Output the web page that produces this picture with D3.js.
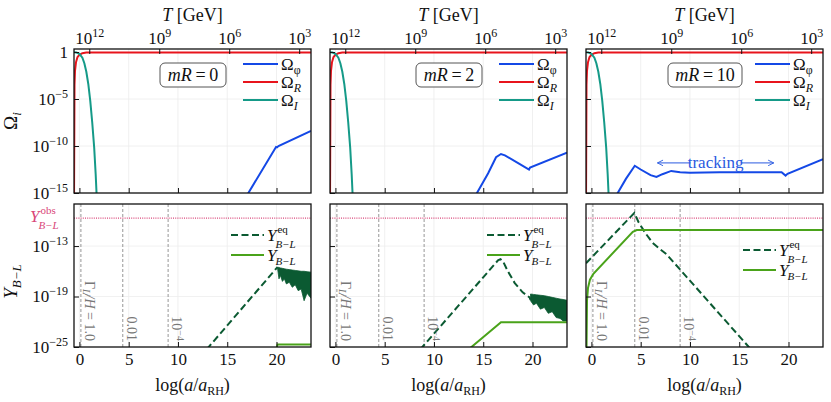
<!DOCTYPE html>
<html>
<head>
<meta charset="utf-8">
<script src="https://cdn.jsdelivr.net/npm/d3@7"></script>
<style>
  body { margin: 0; background: #fff; }
  text { font-family: "Liberation Serif", "DejaVu Serif", serif; fill: #111; }
</style>
</head>
<body>
<svg id="chart" width="831" height="402"></svg>
<script>
// ---- data (x = log(a/a_RH), values are log10) ----
const mRValues = ['0', '2', '10'];
const xTicks = [0, 5, 10, 15, 20];
const tempTicks = [12, 9, 6, 3];          // log10 T [GeV]
const tempAnchor = [[12, 1.0], [3, 22.3]]; // log10 T -> x position
const omegaTicks = [0, -5, -10, -15];
const yieldTicks = [-13, -19, -25];
const yObs = -9.67;
const washoutLines = [0.15, 4.4, 9.0];

const omegaR = [[-0.55, -16], [-0.5, -3.5], [-0.45, -2.0], [-0.35, -1.1], [-0.2, -0.55],
  [0, -0.3], [0.3, -0.12], [0.7, -0.06], [1.2, -0.04], [23.5, -0.04]];
const omegaI = [[-0.55, -0.02], [-0.3, -0.06], [0, -0.2], [0.3, -0.6], [0.5, -1.2],
  [0.7, -2.1], [0.9, -3.4], [1.1, -5.2], [1.3, -7.5], [1.5, -10.2], [1.65, -13], [1.78, -16]];
const omegaPhi = [
  [[16.8, -15.6], [19.95, -10.1], [20.05, -10.15], [20.2, -10.0], [23.5, -8.4]],
  [[14.2, -15.3], [15.5, -12.9], [16.3, -11.2], [16.8, -10.85], [17.2, -11.0],
    [18.5, -11.8], [19.65, -12.5], [19.75, -12.3], [23.5, -10.7]],
  [[2.5, -15.3], [3.5, -13.5], [4.4, -12.1], [5.0, -12.5], [6.0, -13.1], [6.6, -13.3],
    [7.2, -13.0], [8.1, -12.65], [9.0, -12.8], [10, -12.85], [13, -12.8], [19.3, -12.8],
    [19.7, -13.15], [19.9, -12.95], [23.5, -11.4]]
];

const yieldEq = [
  [[12.9, -25.3], [20.1, -15.5]],
  [[8.6, -25.3], [16.5, -14.7], [16.75, -14.55], [17.0, -14.8], [17.5, -16.0],
    [18.2, -17.4], [19.0, -18.5], [19.7, -19.1], [19.8, -19.4]],
  [[-0.55, -15.05], [4.35, -9.07], [4.8, -10.2], [5.5, -11.5], [6.2, -12.6],
    [7.0, -13.4], [7.6, -13.95], [16.2, -25.3]]
];
// oscillating tail: [x, upper, lower]
const yieldEqBand = [
  [[20.1, -15.5, -15.6], [20.25, -15.55, -16.9], [20.4, -15.6, -16.5], [20.6, -15.65, -17.2],
    [20.8, -15.7, -16.9], [21.0, -15.75, -17.5], [21.3, -15.8, -17.3], [21.6, -15.85, -17.9],
    [21.9, -15.9, -17.6], [22.2, -15.95, -18.3], [22.5, -16.0, -18.1], [22.8, -16.0, -19.5],
    [23.1, -16.05, -18.6], [23.5, -16.1, -19.2]],
  [[19.8, -18.7, -19.5], [20.1, -18.75, -20.0], [20.4, -18.8, -19.8], [20.8, -18.85, -20.5],
    [21.2, -18.9, -20.3], [21.6, -19.0, -21.0], [22.0, -19.1, -20.8], [22.4, -19.2, -21.5],
    [22.8, -19.3, -21.6], [23.1, -19.35, -21.9], [23.5, -19.45, -21.9]],
  []
];
const yieldBL = [
  [[19.95, -25.5], [20.1, -24.7], [23.5, -24.7]],
  [[13.5, -25.3], [16.8, -22.05], [23.5, -22.05]],
  [[-0.5, -25.3], [-0.45, -19.5], [-0.35, -18.0], [-0.15, -17.0], [0.2, -16.3],
    [4.2, -11.3], [4.6, -11.1], [23.5, -11.1]]
];
const tracking = { from: 6.7, to: 18.5, level: -11.8 };

// ---- layout ----
const colors = { phi: '#1448e6', R: '#e8141c', I: '#159a88', eq: '#0b5a32', bl: '#4aa31a', obs: '#d9477a' };
const panelLeft = [74, 330, 586];
const panelW = 237;
const topBox = { top: 49, bottom: 193 };
const botBox = { top: 204, bottom: 347 };

const svg = d3.select('#chart');

function pow10(txt, base, exp, size) {
  txt.text(null);
  txt.append('tspan').text(base);
  if (exp !== null) {
    txt.append('tspan').attr('dy', -7).attr('font-size', size).text(exp);
  }
}

// symbol with stacked superscript and subscript
function supSub(x, y, base, sup, sub, opts) {
  const col = opts.color || '#111';
  const b = svg.append('text').attr('x', x).attr('y', y).attr('font-size', opts.size)
    .attr('font-style', 'italic').style('fill', col).text(base);
  const w = b.node().getComputedTextLength();
  if (sup) {
    svg.append('text').attr('x', x + w + 1).attr('y', y - 8).attr('font-size', opts.small)
      .style('fill', col).text(sup);
  }
  svg.append('text').attr('x', x + w - 1).attr('y', y + (sup ? 7 : 4)).attr('font-size', opts.small)
    .attr('font-style', 'italic').style('fill', col).text(sub);
}

function styleAxis(g) {
  g.select('.domain').remove();
  g.selectAll('.tick line').attr('stroke', '#111').attr('stroke-width', 1);
  g.selectAll('.tick text').attr('font-size', 17).attr('fill', '#111')
    .attr('font-family', '"Liberation Serif", serif');
}

svg.append('defs').append('marker')
  .attr('id', 'arr').attr('viewBox', '0 0 10 10').attr('refX', 9).attr('refY', 5)
  .attr('markerWidth', 7).attr('markerHeight', 7).attr('orient', 'auto-start-reverse')
  .append('path').attr('d', 'M1,1 L9,5 L1,9').attr('fill', 'none')
  .attr('stroke', '#2a5ae0').attr('stroke-width', 1.3);

mRValues.forEach((mR, i) => {
  const left = panelLeft[i];
  const x = d3.scaleLinear().domain([-0.55, 23.5]).range([left, left + panelW]);
  const yTop = d3.scaleLinear().domain([-15, 0.32]).range([topBox.bottom, topBox.top]);
  const yBot = d3.scaleLinear().domain([-25, -8]).range([botBox.bottom, botBox.top]);

  [[yTop, topBox, 'ct' + i, omegaTicks.slice(1)], [yBot, botBox, 'cb' + i, yieldTicks]].forEach(([y, box, id, gy]) => {
    svg.append('clipPath').attr('id', id).append('rect')
      .attr('x', left).attr('y', box.top).attr('width', panelW).attr('height', box.bottom - box.top);
    const grid = svg.append('g').attr('stroke', '#ececec').attr('stroke-width', 0.8);
    grid.selectAll('.gx').data(xTicks).join('line')
      .attr('x1', d => x(d)).attr('x2', d => x(d)).attr('y1', box.top).attr('y2', box.bottom);
    grid.selectAll('.gy').data(gy).join('line')
      .attr('x1', left).attr('x2', left + panelW).attr('y1', d => y(d)).attr('y2', d => y(d));
  });

  const line = (y) => d3.line().x(d => x(d[0])).y(d => y(d[1]));

  // ---- top panel ----
  const gt = svg.append('g').attr('clip-path', `url(#ct${i})`).attr('fill', 'none').attr('stroke-width', 2);
  gt.append('path').datum(omegaR).attr('d', line(yTop)).attr('stroke', colors.R);
  gt.append('path').datum(omegaI).attr('d', line(yTop)).attr('stroke', colors.I);
  gt.append('path').datum(omegaPhi[i]).attr('d', line(yTop)).attr('stroke', colors.phi);

  // ---- bottom panel ----
  const gb = svg.append('g').attr('clip-path', `url(#cb${i})`).attr('fill', 'none');
  gb.append('line').attr('x1', left).attr('x2', left + panelW)
    .attr('y1', yBot(yObs)).attr('y2', yBot(yObs))
    .attr('stroke', colors.obs).attr('stroke-width', 1.2).attr('stroke-dasharray', '1,1.2');
  gb.selectAll('.wl').data(washoutLines).join('line')
    .attr('x1', d => x(d)).attr('x2', d => x(d)).attr('y1', botBox.top).attr('y2', botBox.bottom)
    .attr('stroke', '#8a8a8a').attr('stroke-width', 0.9).attr('stroke-dasharray', '3,2');
  gb.append('path').datum(yieldEq[i]).attr('d', line(yBot))
    .attr('stroke', colors.eq).attr('stroke-width', 2).attr('stroke-dasharray', '7,3.5');
  if (yieldEqBand[i].length) {
    gb.append('path').datum(yieldEqBand[i])
      .attr('d', d3.area().x(d => x(d[0])).y0(d => yBot(d[2])).y1(d => yBot(d[1])))
      .attr('fill', colors.eq).attr('stroke', colors.eq).attr('stroke-width', 0.8);
  }
  gb.append('path').datum(yieldBL[i]).attr('d', line(yBot))
    .attr('stroke', colors.bl).attr('stroke-width', 2);

  // washout labels (rotated)
  const wlText = svg.append('g').attr('font-size', 14);
  washoutLines.forEach((w, k) => {
    const t = wlText.append('text')
      .attr('transform', `translate(${x(w) + 4},${botBox.bottom - 6}) rotate(90)`)
      .attr('text-anchor', 'end').style('fill', '#777');
    if (k === 0) {
      t.append('tspan').text('Γ');
      t.append('tspan').attr('font-style', 'italic').attr('font-size', 10).attr('dy', 2).text('L\u0338');
      t.append('tspan').attr('font-style', 'italic').attr('dy', -2).text('/H');
      t.append('tspan').text(' = 1.0');
    } else if (k === 1) {
      t.text('0.01');
    } else {
      t.append('tspan').text('10');
      t.append('tspan').attr('font-size', 10).attr('dy', -5).text('−4');
    }
  });

  // ---- frames ----
  [topBox, botBox].forEach(box => {
    svg.append('rect').attr('x', left).attr('y', box.top).attr('width', panelW)
      .attr('height', box.bottom - box.top).attr('fill', 'none')
      .attr('stroke', '#111').attr('stroke-width', 1.3);
  });

  // ---- axes ----
  const tScale = d3.scaleLinear().domain([tempAnchor[0][0], tempAnchor[1][0]])
    .range([x(tempAnchor[0][1]), x(tempAnchor[1][1])]);
  const ta = svg.append('g').attr('transform', `translate(0,${topBox.top})`)
    .call(d3.axisTop(tScale).tickValues(tempTicks).tickSize(-5).tickPadding(5));
  styleAxis(ta);
  ta.selectAll('.tick text').each(function (d) { pow10(d3.select(this), '10', String(d), 12); });

  const tb = svg.append('g').attr('transform', `translate(0,${topBox.bottom})`)
    .call(d3.axisBottom(x).tickValues(xTicks).tickSize(-5).tickFormat(''));
  styleAxis(tb);
  const bb = svg.append('g').attr('transform', `translate(0,${botBox.bottom})`)
    .call(d3.axisBottom(x).tickValues(xTicks).tickSize(-5).tickPadding(6));
  styleAxis(bb);

  const la = svg.append('g').attr('transform', `translate(${left},0)`)
    .call(d3.axisLeft(yTop).tickValues(omegaTicks).tickSize(-5).tickPadding(6));
  styleAxis(la);
  const lb = svg.append('g').attr('transform', `translate(${left},0)`)
    .call(d3.axisLeft(yBot).tickValues(yieldTicks).tickSize(-5).tickPadding(6));
  styleAxis(lb);
  if (i === 0) {
    la.selectAll('.tick text').each(function (d) {
      if (d === 0) pow10(d3.select(this), '1', null); else pow10(d3.select(this), '10', '−' + (-d), 12);
    });
    lb.selectAll('.tick text').each(function (d) { pow10(d3.select(this), '10', '−' + (-d), 12); });
  } else {
    la.selectAll('.tick text').remove();
    lb.selectAll('.tick text').remove();
  }

  // ---- titles ----
  const cx = left + panelW / 2;
  const tt = svg.append('text').attr('x', cx).attr('y', 21).attr('text-anchor', 'middle').attr('font-size', 18);
  tt.append('tspan').attr('font-style', 'italic').text('T');
  tt.append('tspan').text(' [GeV]');
  const xt = svg.append('text').attr('x', cx).attr('y', 391).attr('text-anchor', 'middle').attr('font-size', 18);
  xt.append('tspan').text('log(');
  xt.append('tspan').attr('font-style', 'italic').text('a');
  xt.append('tspan').text('/');
  xt.append('tspan').attr('font-style', 'italic').text('a');
  xt.append('tspan').attr('font-size', 12).attr('dy', 4).text('RH');
  xt.append('tspan').attr('dy', -4).text(')');

  // ---- mR box ----
  const bx = svg.append('g').attr('transform', `translate(${left + 119},${topBox.top + 26})`);
  const bw = mR.length > 1 ? 74 : 66;
  bx.append('rect').attr('x', -bw / 2).attr('y', -12).attr('width', bw).attr('height', 24)
    .attr('rx', 5).attr('fill', '#fff').attr('stroke', '#555').attr('stroke-width', 1);
  const mt = bx.append('text').attr('text-anchor', 'middle').attr('y', 6).attr('font-size', 18);
  mt.append('tspan').attr('font-style', 'italic').text('mR');
  mt.append('tspan').text('\u2009=\u2009' + mR);

  // ---- legends ----
  const topLeg = [['phi', 'φ', 'normal'], ['R', 'R', 'italic'], ['I', 'I', 'italic']];
  topLeg.forEach(([key, sub, st], k) => {
    const yy = topBox.top + 15 + k * 18;
    svg.append('line').attr('x1', left + 169).attr('x2', left + 204).attr('y1', yy).attr('y2', yy)
      .attr('stroke', colors[key]).attr('stroke-width', 2);
    const t = svg.append('text').attr('x', left + 207).attr('y', yy + 6).attr('font-size', 17);
    t.append('tspan').text('Ω');
    t.append('tspan').attr('font-style', st).attr('font-size', 12).attr('dy', 4).text(sub);
  });

  const legY = i === 2 ? botBox.top + 46 : botBox.top + 31;
  const legX = left + 157;
  [['eq', '7,3.5', 'eq'], ['bl', null, null]].forEach(([key, dash, sup], k) => {
    const yy = legY + k * 20;
    svg.append('line').attr('x1', legX).attr('x2', legX + 33).attr('y1', yy).attr('y2', yy)
      .attr('stroke', colors[key]).attr('stroke-width', 2).attr('stroke-dasharray', dash);
    supSub(legX + 36, yy + 6, 'Y', sup, 'B−L', { size: 17, small: 11 });
  });

  // ---- tracking annotation ----
  if (i === 2) {
    const ty = yTop(tracking.level);
    const tx = (x(tracking.from) + x(tracking.to)) / 2;
    svg.append('text').attr('x', tx).attr('y', ty + 5).attr('text-anchor', 'middle')
      .attr('font-size', 17).style('fill', '#2a5ae0').text('tracking');
    [[x(tracking.from), tx - 25], [x(tracking.to), tx + 25]].forEach(([a, b]) => {
      svg.append('line').attr('x1', b).attr('x2', a).attr('y1', ty).attr('y2', ty)
        .attr('stroke', '#2a5ae0').attr('stroke-width', 1).attr('marker-end', 'url(#arr)');
    });
  }
});

// ---- y titles and obs label ----
const yl1 = svg.append('text').attr('transform', `translate(17,${(topBox.top + topBox.bottom) / 2}) rotate(-90)`)
  .attr('text-anchor', 'middle').attr('font-size', 19);
yl1.append('tspan').text('Ω');
yl1.append('tspan').attr('font-style', 'italic').attr('font-size', 13).attr('dy', 4).text('i');

const yl2 = svg.append('text').attr('transform', `translate(17,${(botBox.top + botBox.bottom) / 2 + 6}) rotate(-90)`)
  .attr('text-anchor', 'middle').attr('font-size', 19);
yl2.append('tspan').attr('font-style', 'italic').text('Y');
yl2.append('tspan').attr('font-style', 'italic').attr('font-size', 13).attr('dy', 4).text('B−L');

const yScaleObs = d3.scaleLinear().domain([-25, -8]).range([botBox.bottom, botBox.top]);
supSub(30, yScaleObs(yObs) + 4, 'Y', 'obs', 'B−L', { size: 17, small: 11, color: colors.obs });
</script>
</body>
</html>
